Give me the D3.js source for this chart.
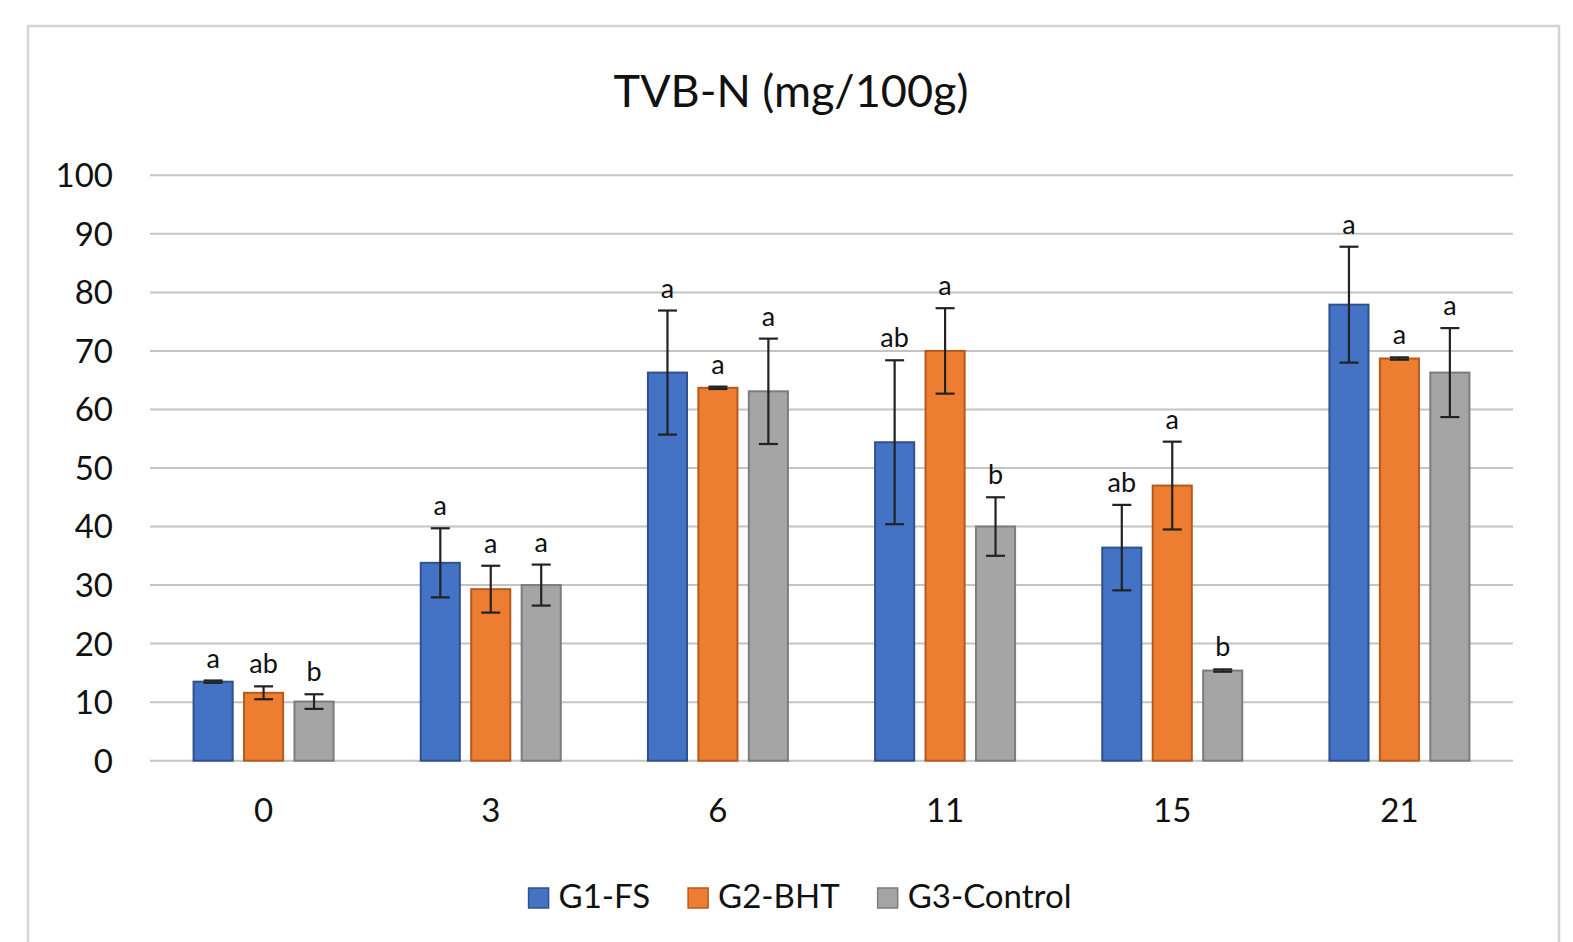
<!DOCTYPE html>
<html>
<head>
<meta charset="utf-8">
<script src="https://cdn.jsdelivr.net/npm/d3@7"></script>
<style>
  body { margin: 0; background: #fff; }
  svg text { font-family: "Lato", "Open Sans", sans-serif; fill: #111; }
</style>
</head>
<body>
<div id="chart"></div>
<script>
// Data
const days = ["0", "3", "6", "11", "15", "21"];
const groups = ["G1-FS", "G2-BHT", "G3-Control"];
const g1Values = [13.5, 33.8, 66.3, 54.4, 36.4, 77.9];
const g2Values = [11.6, 29.3, 63.7, 70.0, 47.0, 68.7];
const g3Values = [10.1, 30.0, 63.1, 40.0, 15.4, 66.3];
const g1Errors = [0.2, 5.9, 10.6, 14.0, 7.3, 9.9];
const g2Errors = [1.1, 4.0, 0.2, 7.3, 7.5, 0.2];
const g3Errors = [1.25, 3.5, 9.0, 5.0, 0.2, 7.6];
const g1Letters = ["a", "a", "a", "ab", "ab", "a"];
const g2Letters = ["ab", "a", "a", "a", "a", "a"];
const g3Letters = ["b", "a", "a", "b", "b", "a"];
const yTicks = [0, 10, 20, 30, 40, 50, 60, 70, 80, 90, 100];

const fills = ["#4472C4", "#ED7D31", "#A5A5A5"];
const strokes = ["#2F528F", "#B55A1F", "#7C7C7C"];

const width = 1573, height = 942;
const plot = { left: 150, right: 1513, top: 175.3, bottom: 760.7 };

// build rows
const series = [
  { values: g1Values, errors: g1Errors, letters: g1Letters },
  { values: g2Values, errors: g2Errors, letters: g2Letters },
  { values: g3Values, errors: g3Errors, letters: g3Letters }
];
const rows = [];
days.forEach((day, i) => {
  groups.forEach((g, j) => {
    rows.push({
      day: day, group: g, idx: j,
      value: series[j].values[i],
      err: series[j].errors[i],
      letter: series[j].letters[i]
    });
  });
});

const svg = d3.select("#chart").append("svg")
  .attr("width", width)
  .attr("height", height);

// chart frame
svg.append("rect")
  .attr("x", 28).attr("y", 26)
  .attr("width", 1531).attr("height", 960)
  .attr("fill", "none")
  .attr("stroke", "#d4d4d4")
  .attr("stroke-width", 2.5);

const x0 = d3.scaleBand()
  .domain(days)
  .range([plot.left, plot.right])
  .padding(0);

const x1 = d3.scaleBand()
  .domain(groups)
  .range([-70, 70])
  .paddingInner(0.225);

const y = d3.scaleLinear()
  .domain([0, 100])
  .range([plot.bottom, plot.top]);

// gridlines
svg.append("g")
  .selectAll("line")
  .data(yTicks)
  .enter()
  .append("line")
  .attr("x1", plot.left)
  .attr("x2", plot.right)
  .attr("y1", d => y(d))
  .attr("y2", d => y(d))
  .attr("stroke", "#c4c4c4")
  .attr("stroke-width", 2);

// y axis labels
svg.append("g")
  .selectAll("text")
  .data(yTicks)
  .enter()
  .append("text")
  .attr("x", 113)
  .attr("y", d => y(d))
  .attr("dy", "0.36em")
  .attr("text-anchor", "end")
  .style("font-size", "33px")
  .text(d => d);

// x axis labels
svg.append("g")
  .selectAll("text")
  .data(days)
  .enter()
  .append("text")
  .attr("x", d => x0(d) + x0.bandwidth() / 2)
  .attr("y", 822)
  .attr("text-anchor", "middle")
  .style("font-size", "33px")
  .text(d => d);

const barX = d => x0(d.day) + x0.bandwidth() / 2 + x1(d.group);

// bars
svg.append("g")
  .selectAll("rect")
  .data(rows)
  .enter()
  .append("rect")
  .attr("x", barX)
  .attr("y", d => y(d.value))
  .attr("width", x1.bandwidth())
  .attr("height", d => y(0) - y(d.value))
  .attr("fill", d => fills[d.idx])
  .attr("stroke", d => strokes[d.idx])
  .attr("stroke-width", 2);

// error bars
const capW = 19;
const errG = svg.append("g")
  .attr("stroke", "#222")
  .attr("stroke-width", 2.2);

const errBars = errG.selectAll("g")
  .data(rows)
  .enter()
  .append("g");

errBars.append("line")
  .attr("x1", d => barX(d) + x1.bandwidth() / 2)
  .attr("x2", d => barX(d) + x1.bandwidth() / 2)
  .attr("y1", d => y(d.value + d.err))
  .attr("y2", d => y(d.value - d.err));

errBars.append("line")
  .attr("x1", d => barX(d) + x1.bandwidth() / 2 - capW / 2)
  .attr("x2", d => barX(d) + x1.bandwidth() / 2 + capW / 2)
  .attr("y1", d => y(d.value + d.err))
  .attr("y2", d => y(d.value + d.err));

errBars.append("line")
  .attr("x1", d => barX(d) + x1.bandwidth() / 2 - capW / 2)
  .attr("x2", d => barX(d) + x1.bandwidth() / 2 + capW / 2)
  .attr("y1", d => y(d.value - d.err))
  .attr("y2", d => y(d.value - d.err));

// significance letters
svg.append("g")
  .selectAll("text")
  .data(rows)
  .enter()
  .append("text")
  .attr("x", d => barX(d) + x1.bandwidth() / 2)
  .attr("y", d => y(d.value + d.err) - 13)
  .attr("text-anchor", "middle")
  .style("font-size", "27px")
  .text(d => d.letter);

// title
svg.append("text")
  .attr("x", 791)
  .attr("y", 107)
  .attr("text-anchor", "middle")
  .style("font-size", "45px")
  .text("TVB-N (mg/100g)");

// legend
const legend = svg.append("g");
const items = legend.selectAll("g")
  .data(groups)
  .enter()
  .append("g");

items.append("rect")
  .attr("width", 20)
  .attr("height", 20)
  .attr("y", 888)
  .attr("fill", (d, i) => fills[i])
  .attr("stroke", (d, i) => strokes[i])
  .attr("stroke-width", 1.5);

items.append("text")
  .attr("x", 30)
  .attr("y", 908)
  .style("font-size", "33px")
  .text(d => d);

let offset = 0;
const positions = [];
items.each(function() {
  const w = 30 + d3.select(this).select("text").node().getComputedTextLength();
  positions.push(offset);
  offset += w + 38;
});
const totalW = offset - 38;
const startX = 800 - totalW / 2;
items.attr("transform", (d, i) => `translate(${startX + positions[i]},0)`);
</script>
</body>
</html>
